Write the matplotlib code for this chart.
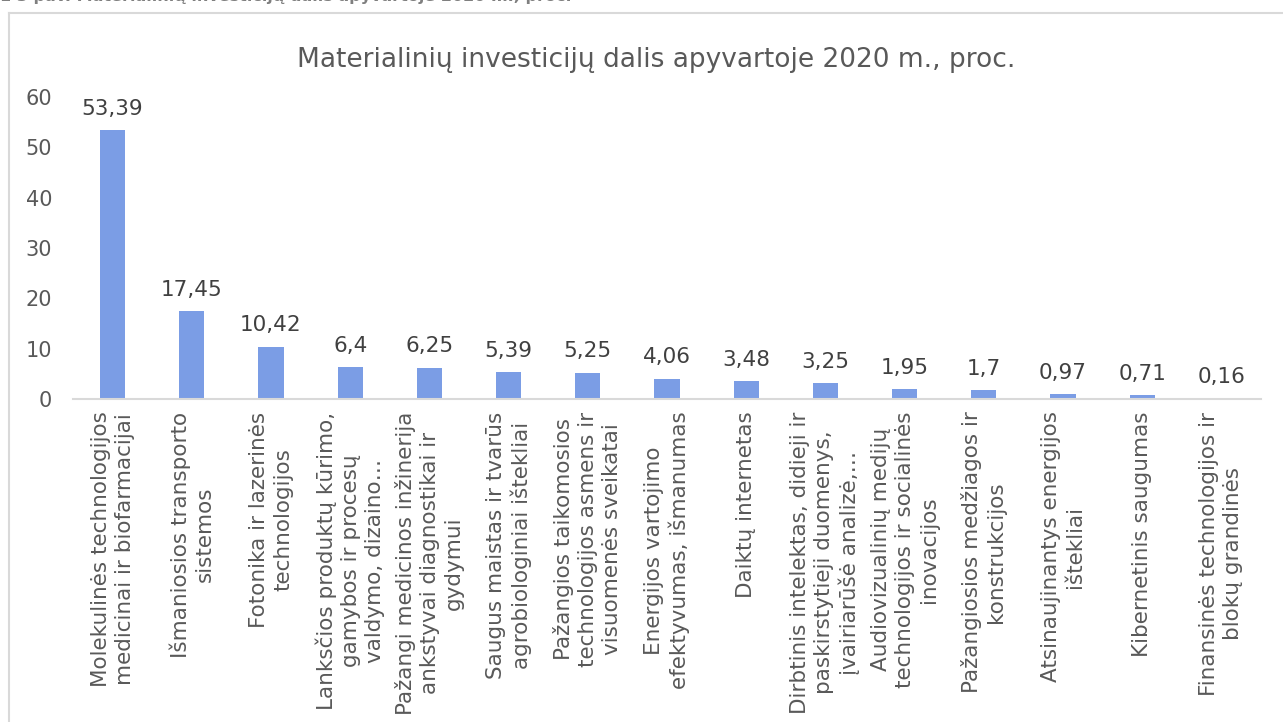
import matplotlib
matplotlib.use("Agg")
import matplotlib.pyplot as plt
from matplotlib.lines import Line2D

# duomenys
kategorijos = [
    "Molekulinės technologijos\nmedicinai ir biofarmacijai",
    "Išmaniosios transporto\nsistemos",
    "Fotonika ir lazerinės\ntechnologijos",
    "Lanksčios produktų kūrimo,\ngamybos ir procesų\nvaldymo, dizaino…",
    "Pažangi medicinos inžinerija\nankstyvai diagnostikai ir\ngydymui",
    "Saugus maistas ir tvarūs\nagrobiologiniai ištekliai",
    "Pažangios taikomosios\ntechnologijos asmens ir\nvisuomenės sveikatai",
    "Energijos vartojimo\nefektyvumas, išmanumas",
    "Daiktų internetas",
    "Dirbtinis intelektas, didieji ir\npaskirstytieji duomenys,\nįvairiarūšė analizė,…",
    "Audiovizualinių medijų\ntechnologijos ir socialinės\ninovacijos",
    "Pažangiosios medžiagos ir\nkonstrukcijos",
    "Atsinaujinantys energijos\ništekliai",
    "Kibernetinis saugumas",
    "Finansinės technologijos ir\nblokų grandinės",
]
reiksmes = [53.39, 17.45, 10.42, 6.4, 6.25, 5.39, 5.25, 4.06, 3.48, 3.25,
            1.95, 1.7, 0.97, 0.71, 0.16]
y_ticks = [0, 10, 20, 30, 40, 50, 60]

TEKSTAS = "#595959"
LINIJA = "#D9D9D9"
STULPELIS = "#7B9DE5"

W, H = 1283, 722
fig = plt.figure(figsize=(W / 100, H / 100), dpi=100)
ax = fig.add_axes([73 / W, 1 - 399 / H, (1261 - 73) / W, (399 - 97) / H])

x = list(range(len(reiksmes)))
bars = ax.bar(x, reiksmes, width=0.32, color=STULPELIS, zorder=2)
for b, v in zip(bars, reiksmes):
    ax.annotate(f"{v:g}".replace(".", ","), (b.get_x() + b.get_width() / 2, v),
                xytext=(0, 8), textcoords="offset points", ha="center", va="bottom",
                fontsize=15.5, color="#404040", annotation_clip=False)

ax.set_xlim(-0.5, len(reiksmes) - 0.5)
ax.set_ylim(0, 60)
ax.set_yticks(y_ticks)
ax.set_xticks(x)
ax.set_xticklabels(kategorijos, rotation=90, fontsize=15.5, color=TEKSTAS,
                   linespacing=1.25, multialignment="center")
ax.tick_params(axis="y", length=0, pad=15, labelsize=15, labelcolor=TEKSTAS)
ax.tick_params(axis="x", length=0, pad=9)
for s in ["top", "right", "left"]:
    ax.spines[s].set_visible(False)
ax.spines["bottom"].set_color(LINIJA)
ax.spines["bottom"].set_linewidth(1.5)

# pavadinimas
fig.text(656 / W, 1 - 60 / H, "Materialinių investicijų dalis apyvartoje 2020 m., proc.",
         ha="center", va="center", fontsize=19, color=TEKSTAS)

# nukirptas paveikslo užrašas viršuje (originale matoma tik apatinė dalis)
fig.text(0, 1 - 1 / H, "1 3 pav. Materialinių investicijų dalis apyvartoje 2020 m., proc.",
         ha="left", va="baseline", fontsize=11.5, fontweight="bold", color="#7F7F7F")

# diagramos rėmelis
fig.add_artist(Line2D([8.5 / W, 1], [1 - 13 / H, 1 - 13 / H], color=LINIJA, lw=1.5,
                      transform=fig.transFigure))
fig.add_artist(Line2D([8.5 / W, 8.5 / W], [0, 1 - 13 / H], color=LINIJA, lw=1.5,
                      transform=fig.transFigure))

fig.savefig("out.png", dpi=100)
